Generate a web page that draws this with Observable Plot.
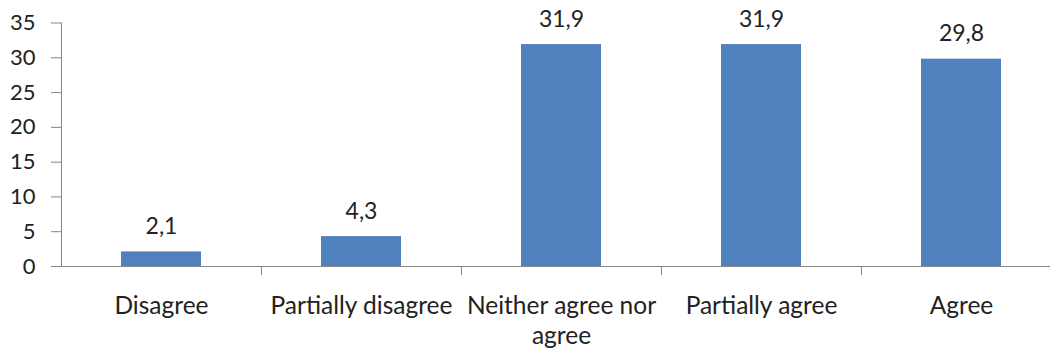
<!DOCTYPE html>
<html><head><meta charset="utf-8">
<script src="https://cdn.jsdelivr.net/npm/d3@7"></script>
<script src="https://cdn.jsdelivr.net/npm/@observablehq/plot@0.6"></script>
<style>html,body{margin:0;padding:0;background:#fff;overflow:hidden}</style>
</head><body><div id="chart"></div>
<script>
const categories = ["Disagree", "Partially disagree", "Neither agree nor\nagree", "Partially agree", "Agree"];
const values = [2.1, 4.3, 31.9, 31.9, 29.8];
const yTicks = [0, 5, 10, 15, 20, 25, 30, 35];

const data = categories.map((c, i) => ({category: c, value: values[i]}));
const fmt = v => v.toFixed(1).replace(".", ",");
const xRange = [61, 1061];
const step = (xRange[1] - xRange[0]) / categories.length;
const axisColor = "#868686";
const textColor = "#222";

const plot = Plot.plot({
  width: 1050, height: 356,
  marginTop: 22.5, marginBottom: 90, marginLeft: 61, marginRight: 0,
  style: {fontFamily: "Lato", fontSize: "22px", color: textColor, background: "#fff", overflow: "hidden"},
  x: {domain: categories, range: xRange, padding: 0},
  y: {domain: [0, 35], ticks: yTicks},
  marks: [
    Plot.frame({anchor: "left", stroke: axisColor}),
    Plot.ruleY([0], {stroke: axisColor}),
    Plot.ruleX(categories.slice(1), {x: d => d, dx: -step / 2, y1: 0, y2: 0, insetBottom: -9, stroke: axisColor}),
    Plot.barY(data, {x: "category", y: "value", fill: "#4F81BD", insetLeft: 60, insetRight: 60}),
    Plot.text(data, {x: "category", y: "value", text: d => fmt(d.value), lineAnchor: "bottom", dy: -18, fill: textColor, fontSize: 23}),
    Plot.axisY({ticks: yTicks, tickSize: 10, tickPadding: 16, stroke: axisColor, fill: textColor, fontSize: 22, label: null}),
    Plot.axisX({tickSize: 0, tickPadding: 26, lineHeight: 1.22, fill: textColor, fontSize: 24.5, label: null})
  ]
});
document.getElementById("chart").appendChild(plot);
</script>
</body></html>
